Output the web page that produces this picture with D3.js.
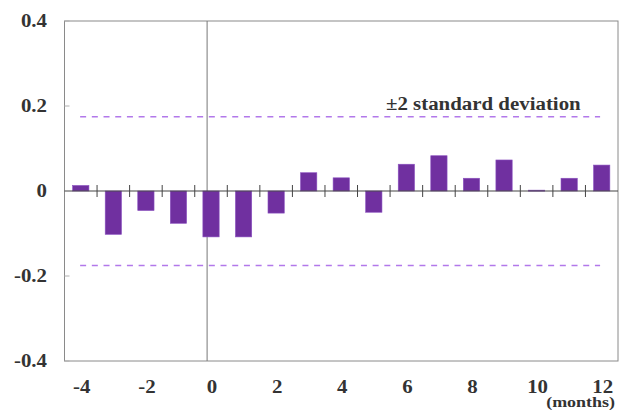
<!DOCTYPE html>
<html>
<head>
<meta charset="utf-8">
<script src="https://cdn.jsdelivr.net/npm/d3@7"></script>
<style>
  body { margin: 0; background: #fff; }
  text { font-family: "Liberation Serif", "Times New Roman", serif; }
</style>
</head>
<body>
<script>
// ---- data ----
const months = [-4, -3, -2, -1, 0, 1, 2, 3, 4, 5, 6, 7, 8, 9, 10, 11, 12];
const values = [0.013, -0.102, -0.046, -0.076, -0.108, -0.108, -0.052, 0.043, 0.031, -0.05,
                0.063, 0.083, 0.030, 0.073, 0.002, 0.030, 0.061];
const band2sd = 0.175;
const yTicks = [-0.4, -0.2, 0, 0.2, 0.4];
const xLabels = [-4, -2, 0, 2, 4, 6, 8, 10, 12];

// ---- layout ----
const width = 621, height = 410;
const margin = { top: 21, right: 3, bottom: 49, left: 64.5 };
const stretch = 1.16; // text in the original is a bit wider than Times

const svg = d3.select("body").append("svg")
  .attr("width", width)
  .attr("height", height);

const x = d3.scaleBand()
  .domain(months)
  .range([margin.left, width - margin.right])
  .padding(0);

const y = d3.scaleLinear()
  .domain([-0.4, 0.4])
  .range([height - margin.bottom, margin.top]);

const barW = x.bandwidth() * 0.5;

// helper: stretched text
function label(px, py, str, size, anchor, weight) {
  svg.append("g")
    .attr("transform", `translate(${px},${py}) scale(${stretch},1)`)
    .append("text")
    .attr("text-anchor", anchor)
    .attr("font-size", size)
    .attr("font-weight", weight)
    .attr("fill", "#333")
    .text(str);
}

// frame
svg.append("rect")
  .attr("x", margin.left)
  .attr("y", margin.top)
  .attr("width", width - margin.left - margin.right)
  .attr("height", height - margin.top - margin.bottom)
  .attr("fill", "none")
  .attr("stroke", "#8a8a8a")
  .attr("stroke-width", 1);

// small y ticks inside frame
svg.selectAll(".ytick")
  .data(yTicks.filter(d => d !== 0))
  .join("line")
  .attr("x1", margin.left)
  .attr("x2", margin.left + 5)
  .attr("y1", d => y(d))
  .attr("y2", d => y(d))
  .attr("stroke", "#b0b0b0");

// y labels
yTicks.forEach(d => {
  const s = d === 0 ? "0" : d3.format(".1f")(d).replace("\u2212", "-");
  label(47, y(d) + 6, s, 18, "end", "bold");
});

// vertical reference line at month 0
const vx = x(0) + x.bandwidth() * 0.38;
svg.append("line")
  .attr("x1", vx).attr("x2", vx)
  .attr("y1", margin.top).attr("y2", height - margin.bottom)
  .attr("stroke", "#777")
  .attr("stroke-width", 1);

// ±2 sd dashed lines
svg.selectAll(".sd")
  .data([band2sd, -band2sd])
  .join("line")
  .attr("x1", x(-4) + x.bandwidth() * 0.48)
  .attr("x2", x(12) + x.bandwidth() * 0.45)
  .attr("y1", d => y(d))
  .attr("y2", d => y(d))
  .attr("stroke", "#b278ea")
  .attr("stroke-width", 1.5)
  .attr("stroke-dasharray", "6,5.7");

label(386, 110, "±2 standard deviation", 18, "start", "bold");

// bars
svg.selectAll(".bar")
  .data(months.map((m, i) => ({ m, v: values[i] })))
  .join("rect")
  .attr("x", d => x(d.m) + (x.bandwidth() - barW) / 2)
  .attr("width", barW)
  .attr("y", d => y(Math.max(0, d.v)))
  .attr("height", d => Math.max(1, Math.abs(y(d.v) - y(0))))
  .attr("fill", "#7030a0")
  .attr("stroke", "#8a50c0")
  .attr("stroke-width", 0.6);

// zero line
svg.append("line")
  .attr("x1", margin.left)
  .attr("x2", width - margin.right)
  .attr("y1", y(0))
  .attr("y2", y(0))
  .attr("stroke", "#444")
  .attr("stroke-width", 1.2);

// category boundary ticks on zero line
svg.selectAll(".xtick")
  .data(months.slice(1))
  .join("line")
  .attr("x1", d => x(d))
  .attr("x2", d => x(d))
  .attr("y1", y(0) - 6)
  .attr("y2", y(0) + 6)
  .attr("stroke", "#444")
  .attr("stroke-width", 1);

// x labels
xLabels.forEach(d => {
  label(x(d) + x.bandwidth() / 2 + 1, 393, String(d), 18, "middle", "bold");
});

label(615, 407, "(months)", 15.5, "end", "bold");
</script>
</body>
</html>
